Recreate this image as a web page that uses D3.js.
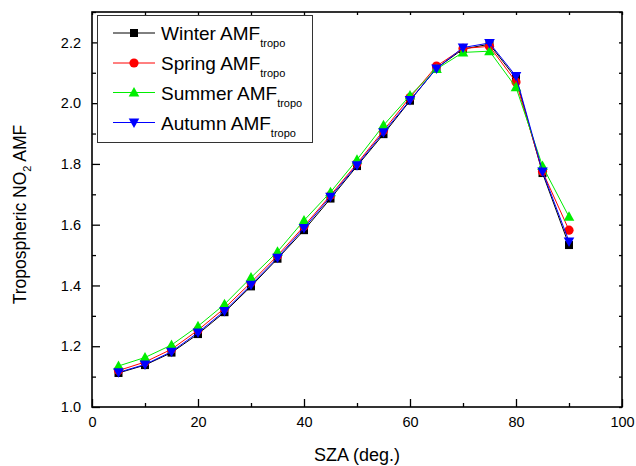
<!DOCTYPE html>
<html><head><meta charset="utf-8">
<script src="https://cdn.jsdelivr.net/npm/d3@7"></script>
<style>
html,body{margin:0;padding:0;background:#fff;}
svg{display:block;font-family:"Liberation Sans",Arial,sans-serif;}
</style></head>
<body><svg id="c" width="636" height="466"></svg>
<script>
const sza = [5,10,15,20,25,30,35,40,45,50,55,60,65,70,75,80,85,90];
const winter = [1.112,1.138,1.179,1.240,1.312,1.397,1.488,1.582,1.686,1.793,1.898,2.008,2.115,2.178,2.194,2.082,1.770,1.533];
const spring = [1.120,1.148,1.190,1.253,1.325,1.410,1.498,1.595,1.697,1.801,1.910,2.019,2.122,2.180,2.187,2.070,1.775,1.582];
const summer = [1.135,1.163,1.204,1.266,1.338,1.426,1.511,1.614,1.707,1.814,1.927,2.025,2.112,2.167,2.171,2.052,1.793,1.626];
const autumn = [1.114,1.140,1.182,1.245,1.316,1.402,1.491,1.589,1.692,1.796,1.904,2.010,2.114,2.183,2.198,2.089,1.775,1.545];
const seriesNames = ["Winter AMF","Spring AMF","Summer AMF","Autumn AMF"];
const seriesColors = ["#000000","#ff0000","#00ee00","#0000ff"];
const seriesShapes = ["square","circle","triangleUp","triangleDown"];
const xMajor = [0,20,40,60,80,100];
const xMinor = [10,30,50,70,90];
const yMajor = [1.0,1.2,1.4,1.6,1.8,2.0,2.2];
const yMinor = [1.1,1.3,1.5,1.7,1.9,2.1,2.3];

const svg = d3.select("#c");
const L=92, R=622, T=12, B=407;
const x = d3.scaleLinear().domain([0,100]).range([L,R]);
const y = d3.scaleLinear().domain([1.0,2.3]).range([B,T]);

function styleAxis(g){ g.select(".domain").remove(); g.selectAll("line").attr("stroke","#000").attr("stroke-width",1.3); g.selectAll("text").attr("font-size","14.5px").attr("fill","#000").attr("font-family","'Liberation Sans',Arial,sans-serif"); }

// bottom
svg.append("g").attr("transform",`translate(0,${B})`).call(d3.axisBottom(x).tickValues(xMajor).tickFormat(d3.format("d")).tickSizeInner(-8).tickSizeOuter(0).tickPadding(10)).call(styleAxis);
svg.append("g").attr("transform",`translate(0,${B})`).call(d3.axisBottom(x).tickValues(xMinor).tickFormat("").tickSizeInner(-4).tickSizeOuter(0)).call(styleAxis);
// left
svg.append("g").attr("transform",`translate(${L},0)`).call(d3.axisLeft(y).tickValues(yMajor).tickFormat(d3.format(".1f")).tickSizeInner(-8).tickSizeOuter(0).tickPadding(11)).call(styleAxis);
svg.append("g").attr("transform",`translate(${L},0)`).call(d3.axisLeft(y).tickValues(yMinor).tickFormat("").tickSizeInner(-4).tickSizeOuter(0)).call(styleAxis);
// top & right
svg.append("g").attr("transform",`translate(0,${T})`).call(d3.axisTop(x).tickValues(xMajor.concat(xMinor)).tickFormat("").tickSizeInner(-3).tickSizeOuter(0)).call(styleAxis);
svg.append("g").attr("transform",`translate(${R},0)`).call(d3.axisRight(y).tickValues(yMajor.concat(yMinor)).tickFormat("").tickSizeInner(-3).tickSizeOuter(0)).call(styleAxis);

// frame
svg.append("rect").attr("x",L).attr("y",T).attr("width",R-L).attr("height",B-T).attr("fill","none").attr("stroke","#000").attr("stroke-width",1.6);

function marker(g, shape, cx, cy, color){
  if(shape==="square") g.append("rect").attr("x",cx-4).attr("y",cy-4).attr("width",8).attr("height",8).attr("fill",color);
  else if(shape==="circle") g.append("circle").attr("cx",cx).attr("cy",cy).attr("r",4.6).attr("fill",color);
  else if(shape==="triangleUp") g.append("path").attr("d",`M${cx},${cy-5.5}L${cx+5.3},${cy+4}L${cx-5.3},${cy+4}Z`).attr("fill",color);
  else g.append("path").attr("d",`M${cx},${cy+5.5}L${cx+5.3},${cy-4}L${cx-5.3},${cy-4}Z`).attr("fill",color);
}

const allSeries = [winter,spring,summer,autumn];
const line = d3.line().x(d=>x(d[0])).y(d=>y(d[1]));
allSeries.forEach((vals,i)=>{
  const pts = sza.map((s,j)=>[s,vals[j]]);
  const g = svg.append("g");
  g.append("path").attr("d",line(pts)).attr("fill","none").attr("stroke",seriesColors[i]).attr("stroke-width",1);
  pts.forEach(p=>marker(g, seriesShapes[i], x(p[0]), y(p[1]), seriesColors[i]));
});

// legend
const lg = svg.append("g");
lg.append("rect").attr("x",97.5).attr("y",15.5).attr("width",215).attr("height",127).attr("fill","#fff").attr("stroke","#333").attr("stroke-width",1);
const legY = [33,63,92.5,122.5];
seriesNames.forEach((n,i)=>{
  const cy = legY[i];
  lg.append("line").attr("x1",113).attr("x2",155).attr("y1",cy).attr("y2",cy).attr("stroke",seriesColors[i]).attr("stroke-width",1);
  marker(lg, seriesShapes[i], 134, cy, seriesColors[i]);
  const t = lg.append("text").attr("x",161).attr("y",cy+7).attr("font-size","19px").attr("fill","#000");
  t.append("tspan").text(n);
  t.append("tspan").attr("font-size","11px").attr("dy",7).text("tropo");
});

// axis titles
svg.append("text").attr("x",(L+R)/2).attr("y",461).attr("text-anchor","middle").attr("font-size","18px").attr("fill","#000").text("SZA (deg.)");
const yt = svg.append("text").attr("transform",`translate(26,${(T+B)/2+5}) rotate(-90)`).attr("text-anchor","middle").attr("font-size","17.5px").attr("fill","#000");
yt.append("tspan").text("Tropospheric NO");
yt.append("tspan").attr("font-size","11px").attr("dy",5).text("2");
yt.append("tspan").attr("dy",-5).text(" AMF");
</script></body></html>
